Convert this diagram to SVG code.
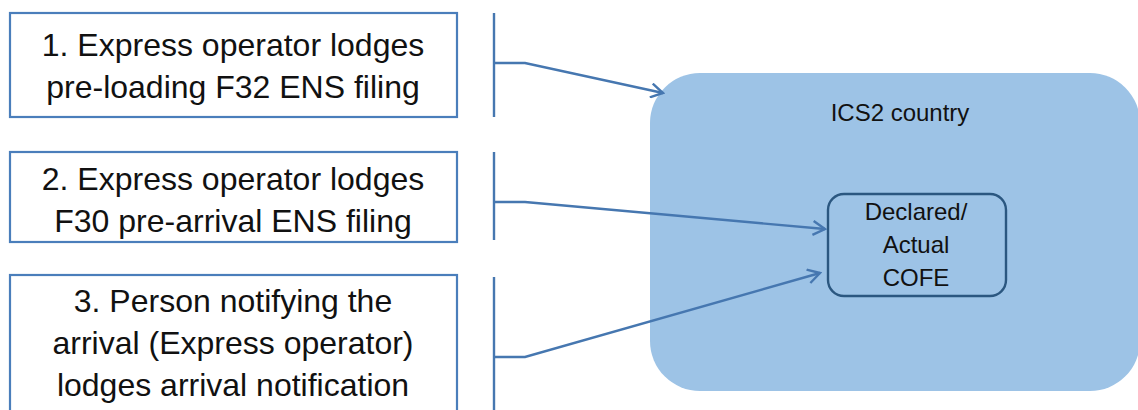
<svg xmlns="http://www.w3.org/2000/svg" width="1138" height="410" viewBox="0 0 1138 410">
<style>
.box{fill:#ffffff;stroke:#4A7EBB;stroke-width:2.2}
.t{font-family:"Liberation Sans",Arial,sans-serif;font-size:32px;fill:#111;text-anchor:middle}
.s{font-family:"Liberation Sans",Arial,sans-serif;font-size:24px;fill:#111;text-anchor:middle}
.c{fill:none;stroke:#4677B0;stroke-width:2.4}
</style>
<defs>
<marker id="arr" viewBox="0 0 16 16" refX="14" refY="8" markerWidth="16" markerHeight="16" markerUnits="userSpaceOnUse" orient="auto">
<path d="M2,1 L14,8 L2,15" fill="none" stroke="#4677B0" stroke-width="2.4"/>
</marker>
</defs>
<rect width="1138" height="410" fill="#ffffff"/>
<g id="ics2">
<rect x="650" y="73" width="490" height="318" rx="50" ry="50" fill="#9DC3E6"/>
<text class="s" x="900" y="121">ICS2 country</text>
</g>
<g id="cofe">
<rect x="828" y="194" width="178" height="102" rx="16" ry="16" fill="none" stroke="#2B5780" stroke-width="2.4"/>
<text class="s" x="916" y="220">Declared/</text>
<text class="s" x="916" y="253">Actual</text>
<text class="s" x="916" y="286">COFE</text>
</g>
<g id="step1">
<rect class="box" x="10" y="13" width="447" height="104"/>
<text class="t" x="233" y="56">1. Express operator lodges</text>
<text class="t" x="233" y="98">pre-loading F32 ENS filing</text>
</g>
<g id="step2">
<rect class="box" x="10" y="152" width="447" height="90"/>
<text class="t" x="233" y="190">2. Express operator lodges</text>
<text class="t" x="233" y="232">F30 pre-arrival ENS filing</text>
</g>
<g id="step3">
<rect class="box" x="10" y="275" width="447" height="150"/>
<text class="t" x="233" y="312">3. Person notifying the</text>
<text class="t" x="233" y="354">arrival (Express operator)</text>
<text class="t" x="233" y="396">lodges arrival notification</text>
</g>
<g id="connectors">
<path class="c" d="M494,13 V117"/>
<path class="c" d="M494,63 H525 L663,93" marker-end="url(#arr)"/>
<path class="c" d="M494,152 V240"/>
<path class="c" d="M494,202 H525 L825,229" marker-end="url(#arr)"/>
<path class="c" d="M494,277 V412"/>
<path class="c" d="M494,357 H525 L820,273" marker-end="url(#arr)"/>
</g>
</svg>
